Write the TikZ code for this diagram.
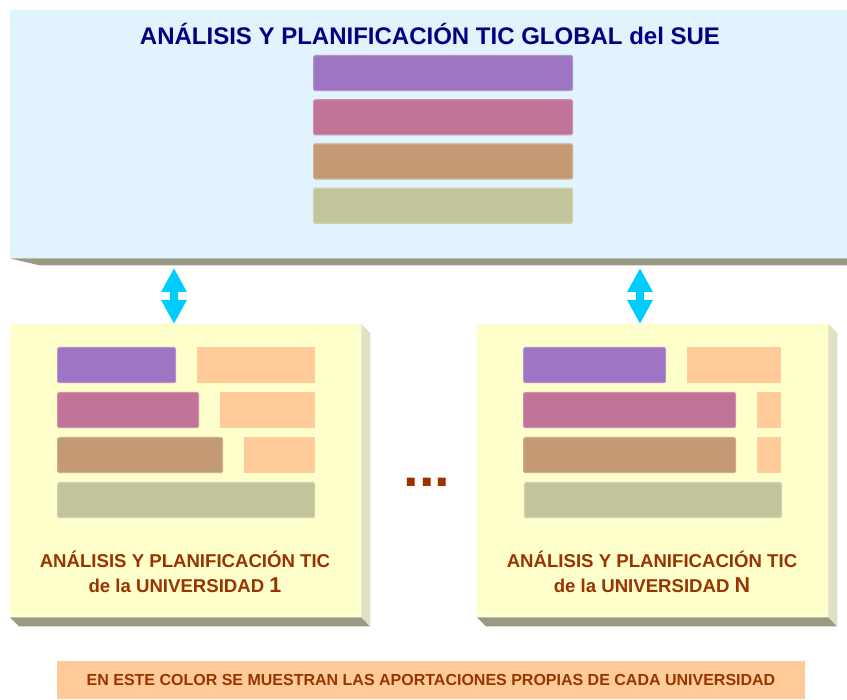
\documentclass[tikz,border=0pt]{standalone}
\usepackage{fontspec}
\setmainfont{Liberation Sans}
\usepackage{tikz}
\usetikzlibrary{arrows.meta, positioning}
\definecolor{bluepanel}{HTML}{E1F3FD}
\definecolor{yellowpanel}{HTML}{FFFFCC}
\definecolor{shadowgray}{HTML}{999984}
\definecolor{sidegray}{HTML}{E0E0C2}
\definecolor{barpurple}{HTML}{9E75C2}
\definecolor{barpink}{HTML}{C27398}
\definecolor{barbrown}{HTML}{C39A74}
\definecolor{barolive}{HTML}{C2C49C}
\definecolor{ownorange}{HTML}{FFCC99}
\definecolor{titlenavy}{HTML}{000080}
\definecolor{textrust}{HTML}{993300}
\definecolor{arrowcyan}{HTML}{00CCFF}
\tikzset{
  panel/.style={rectangle, inner sep=0pt, anchor=north west},
  bar/.style={rectangle, rounded corners=1.5pt, inner sep=0pt, anchor=north west,
    minimum height=35pt, fill=#1, draw=#1!80!white, line width=1.2pt},
  own/.style={rectangle, inner sep=0pt, anchor=north west, minimum height=36pt, fill=ownorange},
  unitext/.style={text=textrust, font=\bfseries\fontsize{18.6}{25}\selectfont, align=center},
  link/.style={arrowcyan, line width=8pt, {Triangle[width=24pt,length=24pt]}-{Triangle[width=24pt,length=24pt]}}
}

\begin{document}
\begin{tikzpicture}[x=1pt, y=-1pt]
\useasboundingbox (0,0) rectangle (847,700);
% global panel
\node[panel, fill=bluepanel, minimum width=837pt, minimum height=248pt] (sue) at (10,10) {};
\fill[shadowgray] (sue.south west) -- ++(30,7) -- ++(807,0) -- (sue.south east) -- cycle;
\node[text=titlenavy, font=\bfseries\fontsize{24}{26}\selectfont] (title) at (430,34) {ANÁLISIS Y PLANIFICACIÓN TIC GLOBAL del SUE};
\node[bar=barpurple, minimum width=259pt] (g1) at (313,55) {};
\node[bar=barpink, minimum width=259pt, below=8pt of g1] (g2) {};
\node[bar=barbrown, minimum width=259pt, below=8pt of g2] (g3) {};
\node[bar=barolive, minimum width=259pt, below=8pt of g3] (g4) {};

% university 1
\node[panel, fill=yellowpanel, minimum width=351pt, minimum height=293pt] (uni1) at (10,324) {};
\fill[sidegray] (uni1.north east) -- ++(9,9) -- ++(0,293) -- (uni1.south east) -- cycle;
\fill[shadowgray] (uni1.south west) -- ++(9,9) -- ++(351,0) -- (uni1.south east) -- cycle;
\node[bar=barpurple, minimum width=118pt] (a1) at (57,347) {};
\node[own, minimum width=118pt] (o11) at (197,347) {};
\node[bar=barpink, minimum width=141pt] (a2) at (57,392) {};
\node[own, minimum width=95pt] (o12) at (220,392) {};
\node[bar=barbrown, minimum width=165pt] (a3) at (57,437) {};
\node[own, minimum width=71pt] (o13) at (244,437) {};
\node[bar=barolive, minimum width=257pt] (a4) at (57,482) {};
\node[unitext] (t1) at (185,572) {ANÁLISIS Y PLANIFICACIÓN TIC\\de la UNIVERSIDAD {\fontsize{21.5}{25}\selectfont 1}};

% university N
\node[panel, fill=yellowpanel, minimum width=351pt, minimum height=293pt] (uniN) at (477,324) {};
\fill[sidegray] (uniN.north east) -- ++(9,9) -- ++(0,293) -- (uniN.south east) -- cycle;
\fill[shadowgray] (uniN.south west) -- ++(9,9) -- ++(351,0) -- (uniN.south east) -- cycle;
\node[bar=barpurple, minimum width=142pt] (b1) at (523,347) {};
\node[own, minimum width=94pt] (oN1) at (687,347) {};
\node[bar=barpink, minimum width=212pt] (b2) at (523,392) {};
\node[own, minimum width=24pt] (oN2) at (757,392) {};
\node[bar=barbrown, minimum width=212pt] (b3) at (523,437) {};
\node[own, minimum width=24pt] (oN3) at (757,437) {};
\node[bar=barolive, minimum width=257pt] (b4) at (524,482) {};
\node[unitext] (tN) at (652,572) {ANÁLISIS Y PLANIFICACIÓN TIC\\de la UNIVERSIDAD {\fontsize{21.5}{25}\selectfont N}};

\node[text=textrust, font=\bfseries\fontsize{56}{56}\selectfont] (dots) at (427,482) {...};

% links
\coordinate (up1) at (174,268);
\coordinate (upN) at (640,268);
\draw[link] (up1) -- (uni1.north -| up1);
\draw[link] (upN) -- (uniN.north -| upN);

% legend
\node[fill=ownorange, minimum width=748pt, minimum height=38pt, text=textrust,
  font=\bfseries\fontsize{16}{18}\selectfont] (legend) at (431,680)
  {EN ESTE COLOR SE MUESTRAN LAS APORTACIONES PROPIAS DE CADA UNIVERSIDAD};
\end{tikzpicture}
\end{document}
